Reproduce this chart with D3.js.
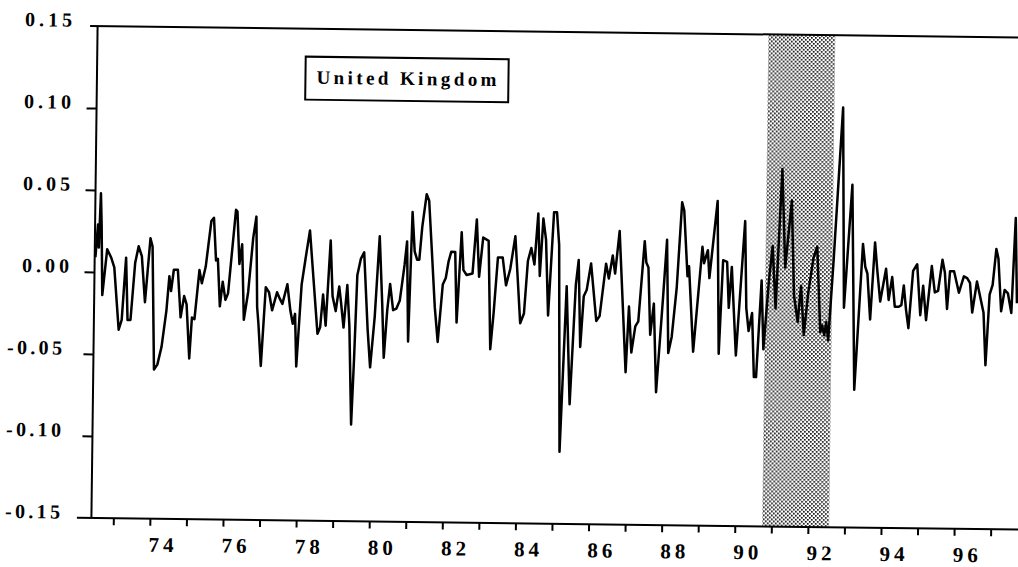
<!DOCTYPE html>
<html>
<head>
<meta charset="utf-8">
<script src="https://cdn.jsdelivr.net/npm/d3@7"></script>
<style>
  html, body { margin: 0; padding: 0; background: #fff; overflow: hidden; }
  svg { display: block; }
</style>
</head>
<body>
<svg id="chart" width="1018" height="567"></svg>
<script>
// Monthly growth deviations, United Kingdom (decimal year, value)
const years = [
  1972.42,1972.48,1972.51,1972.55,1972.58,1972.62,1972.74,1972.85,1972.94,
  1973.08,1973.16,1973.26,1973.32,1973.40,1973.51,1973.60,1973.69,1973.79,1973.92,1973.98,
  1974.06,1974.15,1974.26,1974.38,1974.45,1974.50,1974.57,1974.68,1974.77,1974.86,1974.93,
  1975.02,1975.08,1975.15,1975.27,1975.34,1975.44,1975.58,1975.65,1975.72,1975.77,1975.84,1975.91,1975.99,
  1976.06,1976.25,1976.29,1976.36,1976.43,1976.50,1976.61,1976.73,1976.81,1976.86,1976.90,1976.98,
  1977.09,1977.18,1977.27,1977.40,1977.48,1977.55,1977.68,1977.77,1977.84,1977.90,1977.95,
  1978.07,1978.17,1978.28,1978.39,1978.52,1978.59,1978.66,1978.74,1978.85,1978.92,
  1979.01,1979.10,1979.15,1979.23,1979.32,1979.39,1979.47,1979.53,1979.59,1979.68,1979.77,1979.89,1979.97,
  1980.08,1980.19,1980.28,1980.34,1980.42,1980.49,1980.58,1980.67,1980.76,1980.81,1980.88,1980.94,
  1981.00,1981.08,1981.15,1981.22,1981.28,1981.35,1981.46,1981.53,1981.63,1981.72,1981.81,1981.93,
  1982.01,1982.08,1982.15,1982.26,1982.32,1982.43,1982.49,1982.58,1982.74,1982.84,1982.92,
  1983.02,1983.17,1983.25,1983.33,1983.43,1983.56,1983.66,1983.77,1983.90,
  1984.06,1984.16,1984.25,1984.34,1984.43,1984.52,1984.58,1984.66,1984.74,1984.82,1984.95,
  1985.03,1985.10,1985.18,1985.32,1985.44,1985.57,1985.64,1985.71,1985.79,1985.87,1985.98,
  1986.14,1986.23,1986.39,1986.47,1986.57,1986.64,1986.75,1986.96,
  1987.03,1987.11,1987.21,1987.29,1987.44,1987.49,1987.55,1987.62,1987.71,1987.80,1987.96,
  1988.05,1988.12,1988.21,1988.33,1988.45,1988.51,1988.62,1988.66,1988.80,
  1989.02,1989.07,1989.17,1989.22,1989.42,1989.50,1989.59,1989.70,1989.76,1989.83,1989.97,
  1990.18,1990.24,1990.31,1990.40,1990.47,1990.53,1990.65,1990.72,1990.85,1990.94,
  1991.04,1991.18,1991.29,1991.45,1991.54,1991.65,1991.73,1991.82,1991.93,
  1992.06,1992.16,1992.27,1992.32,1992.38,1992.43,1992.49,1992.61,1992.82,1992.91,
  1993.10,1993.22,1993.41,1993.48,1993.54,1993.63,1993.74,1993.81,1993.90,
  1994.05,1994.13,1994.22,1994.30,1994.41,1994.48,1994.54,1994.61,1994.68,1994.79,1994.90,
  1995.00,1995.07,1995.16,1995.30,1995.39,1995.48,1995.59,1995.66,1995.73,1995.80,1995.91,
  1996.05,1996.18,1996.27,1996.35,1996.42,1996.54,1996.73,1996.80,1996.89,1996.97,
  1997.06,1997.12,1997.21,1997.30,1997.39,1997.49,1997.58,1997.64
];
const values = [
  0.009,0.029,0.015,0.048,0.028,-0.014,0.014,0.009,0.003,
  -0.035,-0.029,0.009,-0.029,-0.029,0.006,0.016,0.010,-0.018,0.021,0.016,
  -0.059,-0.056,-0.045,-0.023,-0.002,-0.011,0.002,0.002,-0.027,-0.014,-0.019,
  -0.052,-0.027,-0.028,0.002,-0.006,0.004,0.032,0.034,0.008,0.009,-0.020,-0.005,-0.016,
  -0.012,0.039,0.038,0.006,0.018,-0.028,-0.011,0.022,0.035,-0.020,-0.030,-0.056,
  -0.008,-0.011,-0.022,-0.011,-0.015,-0.018,-0.006,-0.022,-0.030,-0.024,-0.056,
  -0.006,0.010,0.027,-0.002,-0.036,-0.032,-0.012,-0.031,0.021,-0.013,
  -0.022,-0.007,-0.016,-0.032,-0.006,-0.031,-0.091,-0.050,0.000,0.010,0.014,-0.033,-0.056,
  -0.025,0.024,-0.017,-0.050,-0.021,-0.005,-0.021,-0.020,-0.015,-0.006,0.007,0.021,
  -0.040,0.039,0.015,0.010,0.010,0.030,0.050,0.046,0.012,-0.019,-0.040,-0.005,
  -0.001,0.009,0.015,0.015,-0.028,0.027,0.004,0.001,0.002,0.035,0.000,
  0.024,0.022,-0.044,-0.022,0.012,0.012,-0.005,0.005,0.025,
  -0.028,-0.022,0.010,0.018,0.008,0.039,0.001,0.036,0.023,-0.023,0.040,
  0.040,0.020,-0.106,-0.005,-0.077,-0.004,0.011,-0.042,-0.011,-0.007,0.009,
  -0.026,-0.023,0.009,0.000,0.014,0.003,0.029,-0.057,
  -0.017,-0.045,-0.029,-0.026,0.023,0.010,0.007,-0.034,-0.015,-0.069,-0.011,
  0.024,-0.045,-0.035,-0.005,0.047,0.042,0.002,0.008,-0.044,
  0.020,0.010,0.018,0.001,0.048,-0.045,0.012,0.011,-0.017,0.008,-0.046,
  0.036,-0.017,-0.031,-0.020,-0.059,-0.059,0.000,-0.042,0.000,0.021,
  -0.017,0.068,0.008,0.049,-0.009,-0.025,-0.003,-0.033,-0.007,
  0.014,0.021,-0.031,-0.027,-0.033,-0.025,-0.036,0.012,0.106,-0.016,
  0.059,-0.066,0.023,0.009,0.005,-0.023,0.024,0.007,-0.012,
  0.008,-0.011,0.003,-0.015,-0.015,-0.014,-0.002,-0.017,-0.028,0.007,0.011,
  -0.020,-0.002,-0.023,0.010,-0.006,-0.005,0.014,0.006,-0.016,0.007,0.007,
  -0.006,0.004,0.003,0.000,-0.018,0.001,-0.018,-0.050,-0.007,-0.001,
  0.021,0.015,-0.017,-0.004,-0.006,-0.018,0.040,-0.012
];

// Recession band
const shadeStart = 1990.75;
const shadeEnd = 1992.58;

// Axis ticks and labels
const yTickValues = [0.15, 0.10, 0.05, 0.00, -0.05, -0.10, -0.15];
const yTickLabels = ["0.15", "0.10", "0.05", "0.00", "-0.05", "-0.10", "-0.15"];
const xTickYears = d3.range(1973, 1998);
const xLabelYears = [1974, 1976, 1978, 1980, 1982, 1984, 1986, 1988, 1990, 1992, 1994, 1996];
const xLabels = ["74", "76", "78", "80", "82", "84", "86", "88", "90", "92", "94", "96"];
const title = "United Kingdom";

const FONT = "'Liberation Serif', 'Times New Roman', serif";
const plotLeft = 94.5, plotRight = 1030.4, plotTop = 26, plotBottom = 518;

const x = d3.scaleLinear().domain([1972.4, 1998]).range([plotLeft, plotRight]);
const y = d3.scaleLinear().domain([-0.15, 0.15]).range([plotBottom, plotTop]);

const svg = d3.select("#chart");

// Stipple fill for the shaded band: dots on a diagonal grid
const defs = svg.append("defs");
const pat = defs.append("pattern")
  .attr("id", "stipple")
  .attr("patternUnits", "userSpaceOnUse")
  .attr("width", 4).attr("height", 4);
pat.append("rect").attr("width", 4).attr("height", 4).attr("fill", "#fff");
pat.append("rect").attr("x", 0).attr("y", 0).attr("width", 1.7).attr("height", 1.7).attr("fill", "#111");
pat.append("rect").attr("x", 2).attr("y", 2).attr("width", 1.7).attr("height", 1.7).attr("fill", "#111");

// The whole figure sits slightly tilted on the page
const g = svg.append("g").attr("transform", "rotate(0.72, 95, 272)");

// Shaded band
g.append("rect")
  .attr("x", x(shadeStart))
  .attr("y", plotTop)
  .attr("width", x(shadeEnd) - x(shadeStart))
  .attr("height", plotBottom - plotTop)
  .attr("fill", "url(#stipple)");

// Y ticks via axis generator (frame lines drawn separately)
const yAxis = d3.axisLeft(y)
  .tickValues([0.10, 0.05, 0.00, -0.05, -0.10])
  .tickSize(10)
  .tickFormat("");
const yAxisG = g.append("g").attr("transform", `translate(${plotLeft},0)`).call(yAxis);
yAxisG.select(".domain").remove();
yAxisG.selectAll(".tick line").attr("stroke", "#000").attr("stroke-width", 2);

// X ticks
const xAxis = d3.axisBottom(x)
  .tickValues(xTickYears)
  .tickSize(7)
  .tickFormat("");
const xAxisG = g.append("g").attr("transform", `translate(0,${plotBottom})`).call(xAxis);
xAxisG.select(".domain").remove();
xAxisG.selectAll(".tick line").attr("stroke", "#000").attr("stroke-width", 2);

// Frame: top edge, left axis, bottom axis
g.append("line").attr("x1", 87).attr("x2", plotRight + 20).attr("y1", plotTop).attr("y2", plotTop)
  .attr("stroke", "#000").attr("stroke-width", 2);
g.append("line").attr("x1", plotLeft).attr("x2", plotLeft).attr("y1", plotTop).attr("y2", plotBottom)
  .attr("stroke", "#000").attr("stroke-width", 2);
g.append("line").attr("x1", 80).attr("x2", plotRight + 20).attr("y1", plotBottom).attr("y2", plotBottom)
  .attr("stroke", "#000").attr("stroke-width", 2);

// Y tick labels
g.selectAll("text.ylab")
  .data(yTickValues)
  .join("text")
  .attr("class", "ylab")
  .attr("x", (d) => d < 0 ? 8 : 22)
  .attr("y", (d) => y(d) + 1)
  .attr("textLength", (d) => d < 0 ? 55 : 47)
  .attr("lengthAdjust", "spacing")
  .attr("font-family", FONT)
  .attr("font-weight", "bold")
  .attr("font-size", 20)
  .attr("fill", "#000")
  .text((d, i) => yTickLabels[i]);

// X tick labels
g.selectAll("text.xlab")
  .data(xLabelYears)
  .join("text")
  .attr("class", "xlab")
  .attr("x", (d) => x(d) - 1)
  .attr("y", 551)
  .attr("textLength", 25)
  .attr("lengthAdjust", "spacing")
  .attr("font-family", FONT)
  .attr("font-weight", "bold")
  .attr("font-size", 21)
  .attr("fill", "#000")
  .text((d, i) => xLabels[i]);

// Series line
const pts = years.map((t, i) => [t, values[i]]);
g.append("path")
  .datum(pts)
  .attr("fill", "none")
  .attr("stroke", "#000")
  .attr("stroke-width", 2.5)
  .attr("stroke-linejoin", "round")
  .attr("d", d3.line().x((d) => x(d[0])).y((d) => y(d[1])));

// Title box
g.append("rect")
  .attr("x", 303).attr("y", 54)
  .attr("width", 203).attr("height", 43)
  .attr("fill", "#fff")
  .attr("stroke", "#000").attr("stroke-width", 2);
g.append("text")
  .attr("x", 314).attr("y", 81)
  .attr("textLength", 180)
  .attr("lengthAdjust", "spacing")
  .attr("font-family", FONT)
  .attr("font-weight", "bold")
  .attr("font-size", 19)
  .attr("fill", "#000")
  .text(title);
</script>
</body>
</html>
